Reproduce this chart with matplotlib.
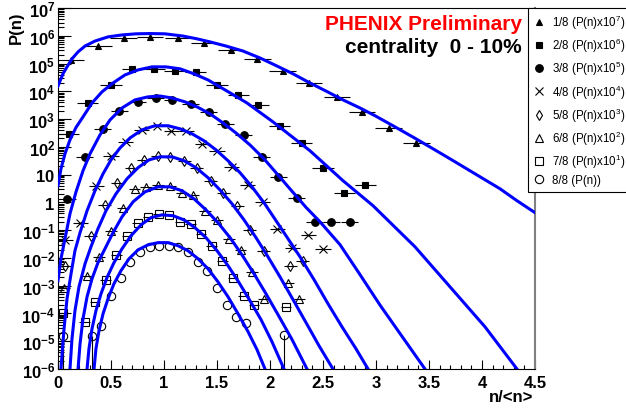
import numpy as np
import matplotlib
matplotlib.use("Agg")
from matplotlib import pyplot as plt
from matplotlib.lines import Line2D
from matplotlib.ticker import FixedLocator, FixedFormatter, MultipleLocator, LogLocator, NullFormatter, FuncFormatter

plt.rcParams["font.family"] = "Liberation Sans"
plt.rcParams["mathtext.fontset"] = "custom"
plt.rcParams["mathtext.rm"] = "Liberation Sans"
plt.rcParams["mathtext.it"] = "Liberation Sans"
plt.rcParams["mathtext.bf"] = "Liberation Sans:bold"

# data points, log10 of scaled P(n)
s1_z = [0.12, 0.38, 0.62, 0.87, 1.13, 1.38, 1.63, 1.88, 2.12, 2.37, 2.63, 2.87, 3.12, 3.38]
s1_lp = [5.13, 5.63, 5.92, 5.96, 5.92, 5.74, 5.49, 5.17, 4.73, 4.30, 3.80, 3.26, 2.68, 2.14]
s2_z = [0.10, 0.28, 0.50, 0.70, 0.91, 1.10, 1.30, 1.50, 1.70, 1.89, 2.09, 2.30, 2.50, 2.70, 2.90]
s2_lp = [2.47, 3.58, 4.23, 4.81, 4.81, 4.73, 4.70, 4.23, 3.87, 3.51, 2.76, 2.14, 1.24, 0.35, 0.63]
s3_z = [0.083, 0.25, 0.42, 0.58, 0.75, 0.92, 1.08, 1.25, 1.42, 1.58, 1.75, 1.92, 2.08, 2.25, 2.42, 2.58, 2.75]
s3_lp = [0.13, 1.64, 2.65, 3.29, 3.62, 3.76, 3.69, 3.55, 3.26, 2.83, 2.43, 1.64, 0.92, 0.17, -0.70, -0.70, -0.70]
s4_z = [0.07, 0.21, 0.36, 0.50, 0.64, 0.79, 0.93, 1.07, 1.21, 1.36, 1.50, 1.64, 1.79, 1.93, 2.07, 2.21, 2.36, 2.50]
s4_lp = [-1.35, -0.73, 0.60, 1.68, 2.18, 2.61, 2.76, 2.58, 2.58, 2.11, 1.86, 1.28, 0.63, 0.02, -0.95, -1.63, -1.17, -1.67]
s5_z = [0.0625, 0.31, 0.44, 0.56, 0.69, 0.81, 0.94, 1.06, 1.19, 1.31, 1.44, 1.56, 1.69, 1.81, 1.94, 2.19, 2.31]
s5_lp = [-2.28, -1.20, -0.09, 0.71, 1.24, 1.53, 1.68, 1.64, 1.50, 1.24, 0.78, 0.35, -0.12, -0.99, -1.74, -2.28, -2.10]
s6_z = [0.056, 0.278, 0.389, 0.5, 0.611, 0.722, 0.833, 0.944, 1.056, 1.167, 1.278, 1.389, 1.5, 1.611, 1.722, 1.833, 1.944, 2.167, 2.278]
s6_lp = [-3.07, -2.64, -1.96, -1.02, -0.19, 0.49, 0.56, 0.63, 0.60, 0.35, 0.27, -0.30, -0.63, -1.31, -1.71, -2.50, -3.47, -2.89, -3.47]
s7_z = [0.05, 0.25, 0.35, 0.45, 0.55, 0.65, 0.75, 0.85, 0.95, 1.05, 1.15, 1.25, 1.35, 1.45, 1.55, 1.65, 1.75, 1.85, 2.15]
s7_lp = [-3.97, -4.29, -3.58, -2.78, -1.88, -1.20, -0.73, -0.52, -0.41, -0.45, -0.70, -0.77, -1.13, -1.56, -2.10, -2.71, -3.36, -3.68, -3.76]
s8_z = [0.045, 0.318, 0.409, 0.5, 0.591, 0.682, 0.773, 0.864, 0.955, 1.045, 1.136, 1.227, 1.318, 1.409, 1.5, 1.591, 1.682, 1.773, 2.136]
s8_lp = [-4.80, -4.80, -4.44, -3.36, -2.71, -2.14, -1.78, -1.60, -1.56, -1.56, -1.60, -1.78, -2.14, -2.46, -3.07, -3.68, -4.12, -4.33, -4.76]
# half bin widths (horizontal error bars)
half_width = [0.125, 0.1, 0.083, 0.071, 0.0625, 0.056, 0.05, 0.0]
# points of series 8 whose error bar reaches the bottom
s8_vbar_z = [0.045, 0.318, 2.136]

# fitted curves
c1_z = [0, 0.019, 0.047, 0.085, 0.132, 0.189, 0.255, 0.349, 0.472, 0.604, 0.736, 0.868, 1.009, 1.179, 1.311, 1.434, 1.585, 1.745, 1.906, 2.066, 2.217, 2.377, 2.528, 2.689, 2.849, 2.991, 3.179, 3.377, 3.538, 3.698, 3.934, 4.170, 4.330, 4.5]
c1_lp = [4.19, 4.37, 4.63, 4.88, 5.17, 5.42, 5.63, 5.81, 5.96, 6.03, 6.07, 6.08, 6.07, 5.99, 5.89, 5.78, 5.63, 5.45, 5.20, 4.91, 4.63, 4.30, 4.01, 3.69, 3.40, 3.12, 2.72, 2.29, 1.93, 1.57, 1.03, 0.49, 0.06, -0.37]
c2_z = [0, 0.028, 0.066, 0.113, 0.170, 0.236, 0.321, 0.415, 0.519, 0.632, 0.755, 0.887, 1.019, 1.151, 1.283, 1.415, 1.594, 1.783, 2.028, 2.377, 2.689, 2.972, 3.368, 3.698, 4.028, 4.33]
c2_lp = [0.60, 1.21, 1.75, 2.25, 2.70, 3.08, 3.58, 3.98, 4.30, 4.59, 4.77, 4.88, 4.88, 4.81, 4.63, 4.41, 4.01, 3.58, 2.90, 1.86, 0.78, -0.12, -1.60, -3.04, -4.48, -6.0]
c3_z = [0, 0.028, 0.066, 0.113, 0.170, 0.236, 0.302, 0.396, 0.491, 0.604, 0.726, 0.849, 0.962, 1.075, 1.198, 1.311, 1.434, 1.557, 1.679, 1.811, 1.943, 2.075, 2.208, 2.340, 2.472, 2.660, 2.849, 3.038, 3.226, 3.462]
c3_lp = [-2.82, -2.03, -1.31, -0.41, 0.38, 1.14, 1.75, 2.43, 2.97, 3.40, 3.69, 3.80, 3.83, 3.76, 3.62, 3.44, 3.19, 2.86, 2.50, 2.07, 1.57, 0.99, 0.40, -0.18, -0.70, -1.52, -2.60, -3.70, -4.72, -6.0]
c4_z = [0.028, 0.057, 0.085, 0.123, 0.160, 0.208, 0.274, 0.349, 0.425, 0.5, 0.585, 0.679, 0.792, 0.915, 1.038, 1.151, 1.264, 1.377, 1.491, 1.604, 1.717, 1.830, 1.943, 2.057, 2.170, 2.283, 2.415, 2.547, 2.679, 2.811, 2.925]
c4_lp = [-6.0, -4.55, -3.47, -2.57, -1.74, -1.09, -0.30, 0.42, 1.03, 1.53, 1.96, 2.32, 2.61, 2.76, 2.76, 2.65, 2.47, 2.22, 1.89, 1.50, 1.07, 0.56, -0.01, -0.66, -1.31, -1.96, -2.78, -3.65, -4.48, -5.27, -6.0]
c5_z = [0.113, 0.132, 0.160, 0.198, 0.255, 0.311, 0.377, 0.453, 0.547, 0.651, 0.755, 0.858, 0.962, 1.075, 1.189, 1.302, 1.415, 1.528, 1.642, 1.755, 1.868, 1.981, 2.094, 2.217, 2.340, 2.462, 2.594]
c5_lp = [-6.0, -4.91, -3.90, -3.04, -2.21, -1.60, -0.95, -0.30, 0.31, 0.85, 1.25, 1.53, 1.64, 1.64, 1.50, 1.25, 0.89, 0.45, -0.05, -0.63, -1.27, -1.96, -2.68, -3.50, -4.33, -5.16, -6.0]
c6_z = [0.189, 0.208, 0.236, 0.274, 0.321, 0.377, 0.443, 0.519, 0.604, 0.708, 0.821, 0.943, 1.057, 1.170, 1.283, 1.396, 1.509, 1.623, 1.736, 1.849, 1.962, 2.075, 2.208, 2.349]
c6_lp = [-6.0, -5.09, -4.19, -3.40, -2.75, -2.17, -1.67, -1.09, -0.52, 0.02, 0.38, 0.56, 0.56, 0.42, 0.13, -0.27, -0.73, -1.27, -1.89, -2.57, -3.29, -4.04, -4.94, -6.0]
c7_z = [0.274, 0.292, 0.321, 0.358, 0.406, 0.462, 0.528, 0.604, 0.689, 0.783, 0.877, 0.981, 1.085, 1.189, 1.292, 1.396, 1.5, 1.604, 1.708, 1.811, 1.915, 2.019, 2.132]
c7_lp = [-6.0, -5.27, -4.55, -3.90, -3.29, -2.71, -2.17, -1.67, -1.20, -0.81, -0.55, -0.45, -0.48, -0.63, -0.91, -1.27, -1.74, -2.28, -2.89, -3.54, -4.22, -5.02, -6.0]
c8_z = [0.340, 0.358, 0.387, 0.425, 0.472, 0.528, 0.594, 0.670, 0.755, 0.849, 0.943, 1.038, 1.132, 1.226, 1.321, 1.415, 1.509, 1.604, 1.698, 1.792, 1.877, 1.953]
c8_lp = [-6.0, -5.27, -4.62, -4.01, -3.47, -2.93, -2.46, -2.03, -1.71, -1.53, -1.45, -1.45, -1.56, -1.74, -2.03, -2.39, -2.86, -3.40, -4.01, -4.65, -5.30, -6.0]

labels = ["1/8 (P(n)x10$^{7}$)", "2/8 (P(n)x10$^{6}$)", "3/8 (P(n)x10$^{5}$)", "4/8 (P(n)x10$^{4}$)",
          "5/8 (P(n)x10$^{3}$)", "6/8 (P(n)x10$^{2}$)", "7/8 (P(n)x10$^{1}$)", "8/8 (P(n))"]
ytick_labels = ["10$^{-6}$", "10$^{-5}$", "10$^{-4}$", "10$^{-3}$", "10$^{-2}$", "10$^{-1}$", "1", "10",
                "10$^{2}$", "10$^{3}$", "10$^{4}$", "10$^{5}$", "10$^{6}$", "10$^{7}$"]

series = [(s1_z, s1_lp), (s2_z, s2_lp), (s3_z, s3_lp), (s4_z, s4_lp),
          (s5_z, s5_lp), (s6_z, s6_lp), (s7_z, s7_lp), (s8_z, s8_lp)]
curves = [(c1_z, c1_lp), (c2_z, c2_lp), (c3_z, c3_lp), (c4_z, c4_lp),
          (c5_z, c5_lp), (c6_z, c6_lp), (c7_z, c7_lp), (c8_z, c8_lp)]
# marker, size, filled
styles = [("^", 5.0, True), ("s", 5.0, True), ("o", 5.5, True), ("x", 5.5, True),
          ("d", 5.0, False), ("^", 6.0, False), ("s", 6.0, False), ("o", 6.0, False)]

fig = plt.figure(figsize=(6.26, 4.10), dpi=100)
ax = fig.add_axes([58 / 626, 1 - 370 / 410, (535 - 58) / 626, (370 - 9) / 410])
ax.set_yscale("log")
ax.set_xlim(0, 4.5)
ax.set_ylim(1e-6, 1e7)

for (z, lp), (m, ms, filled), hw in zip(series, styles, half_width):
    y = 10 ** np.array(lp)
    ax.errorbar(z, y, xerr=hw if hw > 0 else None, fmt=m, color="k", ms=ms,
                mfc="k" if filled else "none", mew=0.8, elinewidth=0.8, capsize=0, zorder=2)

ax.vlines(s8_vbar_z, 1e-6, [10 ** s8_lp[s8_z.index(v)] for v in s8_vbar_z], color="k", lw=0.8, zorder=2)

for z, lp in curves:
    ax.plot(z, 10 ** np.array(lp), color="#0000ff", lw=2.2, zorder=3)

ax.xaxis.set_major_locator(MultipleLocator(0.5))
ax.xaxis.set_minor_locator(MultipleLocator(0.1))
ax.xaxis.set_major_formatter(FuncFormatter(lambda v, p: "%g" % v))
ax.yaxis.set_major_locator(FixedLocator(10.0 ** np.arange(-6, 8)))
ax.yaxis.set_major_formatter(FixedFormatter(["$\\mathbf{" + t.replace("$", "") + "}$" for t in ytick_labels]))
ax.yaxis.set_minor_locator(LogLocator(base=10, subs=np.arange(2, 10), numticks=100))
ax.yaxis.set_minor_formatter(NullFormatter())

ax.tick_params(which="both", direction="in", top=False, right=False, width=0.8)
ax.tick_params(axis="y", which="major", length=9, pad=2, labelsize=12)
ax.tick_params(axis="y", which="minor", length=4.5)
ax.tick_params(axis="x", which="major", length=6.5, pad=4, labelsize=12)
ax.tick_params(axis="x", which="minor", length=3.2)
for lab in ax.get_xticklabels():
    lab.set_fontweight("bold")
for sp in ["left", "bottom", "top"]:
    ax.spines[sp].set_linewidth(0.8)
ax.spines["right"].set_color("#808080")
ax.spines["right"].set_linewidth(1.5)

fig.text(16 / 626, 1 - 11 / 410, "P(n)", rotation=90, ha="center", va="top", fontsize=12, fontweight="bold")
fig.text(533 / 626, 1 - 398 / 410, "n/<n>", ha="right", va="center", fontsize=12, fontweight="bold")
fig.text(522 / 626, 1 - 30 / 410, "PHENIX Preliminary", ha="right", va="baseline", color="red", fontsize=15, fontweight="bold")
fig.text(522 / 626, 1 - 53 / 410, "centrality  0 - 10%", ha="right", va="baseline", color="black", fontsize=15, fontweight="bold")

handles = [Line2D([], [], marker=m, ms=ms, color="k", mfc="k" if filled else "none", mew=0.8, linestyle="none")
           for (m, ms, filled) in styles]
leg = fig.legend(handles, labels, loc="upper left", bbox_to_anchor=(528 / 626, 1 - 9 / 410), frameon=True,
                 fancybox=False, edgecolor="k", framealpha=1, fontsize=8.3, handlelength=1.0, handletextpad=0.67,
                 borderaxespad=0, borderpad=0.45, labelspacing=0.42)
leg.get_frame().set_linewidth(0.8)

fig.savefig("out.png", dpi=100)
